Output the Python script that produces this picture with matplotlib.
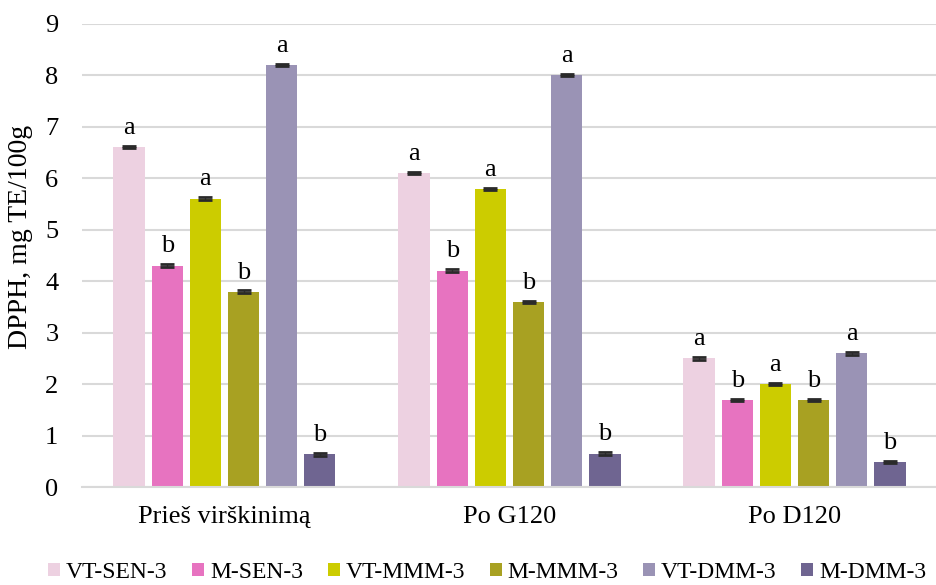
import numpy as np
import matplotlib.pyplot as plt
from matplotlib.patches import Patch

plt.rcParams['font.family'] = ['Liberation Serif', 'DejaVu Serif']

grupes = ['Prieš virškinimą', 'Po G120', 'Po D120']
serijos = ['VT-SEN-3', 'M-SEN-3', 'VT-MMM-3', 'M-MMM-3', 'VT-DMM-3', 'M-DMM-3']
spalvos = ['#EDD1E1', '#E773C0', '#CCCC00', '#A8A122', '#9A93B5', '#6F6591']

# DPPH reikšmės pagal seriją (stulpeliai = grupės)
vt_sen = [6.6, 6.1, 2.5]
m_sen = [4.3, 4.2, 1.7]
vt_mmm = [5.6, 5.8, 2.0]
m_mmm = [3.8, 3.6, 1.7]
vt_dmm = [8.2, 8.0, 2.6]
m_dmm = [0.64, 0.65, 0.49]

# standartiniai nuokrypiai
sd_vt_sen = [0.02, 0.02, 0.03]
sd_m_sen = [0.03, 0.03, 0.02]
sd_vt_mmm = [0.03, 0.02, 0.02]
sd_m_mmm = [0.02, 0.02, 0.02]
sd_vt_dmm = [0.02, 0.02, 0.03]
sd_m_dmm = [0.03, 0.03, 0.02]

raides = ['a', 'b', 'a', 'b', 'a', 'b']

reiksmes = [vt_sen, m_sen, vt_mmm, m_mmm, vt_dmm, m_dmm]
nuokrypiai = [sd_vt_sen, sd_m_sen, sd_vt_mmm, sd_m_mmm, sd_vt_dmm, sd_m_dmm]

fig = plt.figure(figsize=(9.37, 5.85), dpi=100)
ax = fig.add_axes([0.0875, 0.1675, 0.9125, 0.7915])

x = np.arange(len(grupes))
zingsnis = 0.134
plotis = 0.109

for i, (vals, sd) in enumerate(zip(reiksmes, nuokrypiai)):
    pos = x + (i - 2.5) * zingsnis
    ax.bar(pos, vals, width=plotis, color=spalvos[i], zorder=2)
    ax.errorbar(pos, vals, yerr=sd, fmt='none', ecolor='#2A2A2A',
                elinewidth=1, capsize=5, capthick=2, zorder=3)
    for p, v, s in zip(pos, vals, sd):
        ax.annotate(raides[i], (p, v + s), xytext=(0, 5), textcoords='offset points',
                    ha='center', va='bottom', fontsize=19)

ax.set_xlim(-0.5, 2.5)
ax.set_ylim(0, 9)
ax.set_yticks(range(10))
ax.set_xticks(x)
ax.set_xticklabels(grupes, fontsize=19)
ax.tick_params(axis='y', labelsize=19, length=0, pad=17)
ax.tick_params(axis='x', length=0, pad=14)
ax.set_ylabel('DPPH, mg TE/100g', fontsize=20)
ax.yaxis.set_label_coords(-0.057, 0.54)

ax.grid(axis='y', color='#D9D9D9', linewidth=1.5, zorder=0)
ax.set_axisbelow(True)
for s in ['top', 'right', 'left']:
    ax.spines[s].set_visible(False)
ax.spines['bottom'].set_color('#D9D9D9')
ax.spines['bottom'].set_linewidth(1.5)

rankenos = [Patch(facecolor=c, edgecolor='none') for c in spalvos]
fig.legend(rankenos, serijos, loc='center', bbox_to_anchor=(0.52, 0.022), ncol=6,
           frameon=False, fontsize=17, handlelength=0.5, handleheight=0.5,
           handletextpad=0.25, columnspacing=1.05, borderpad=0)

fig.savefig('out.png', dpi=100)
